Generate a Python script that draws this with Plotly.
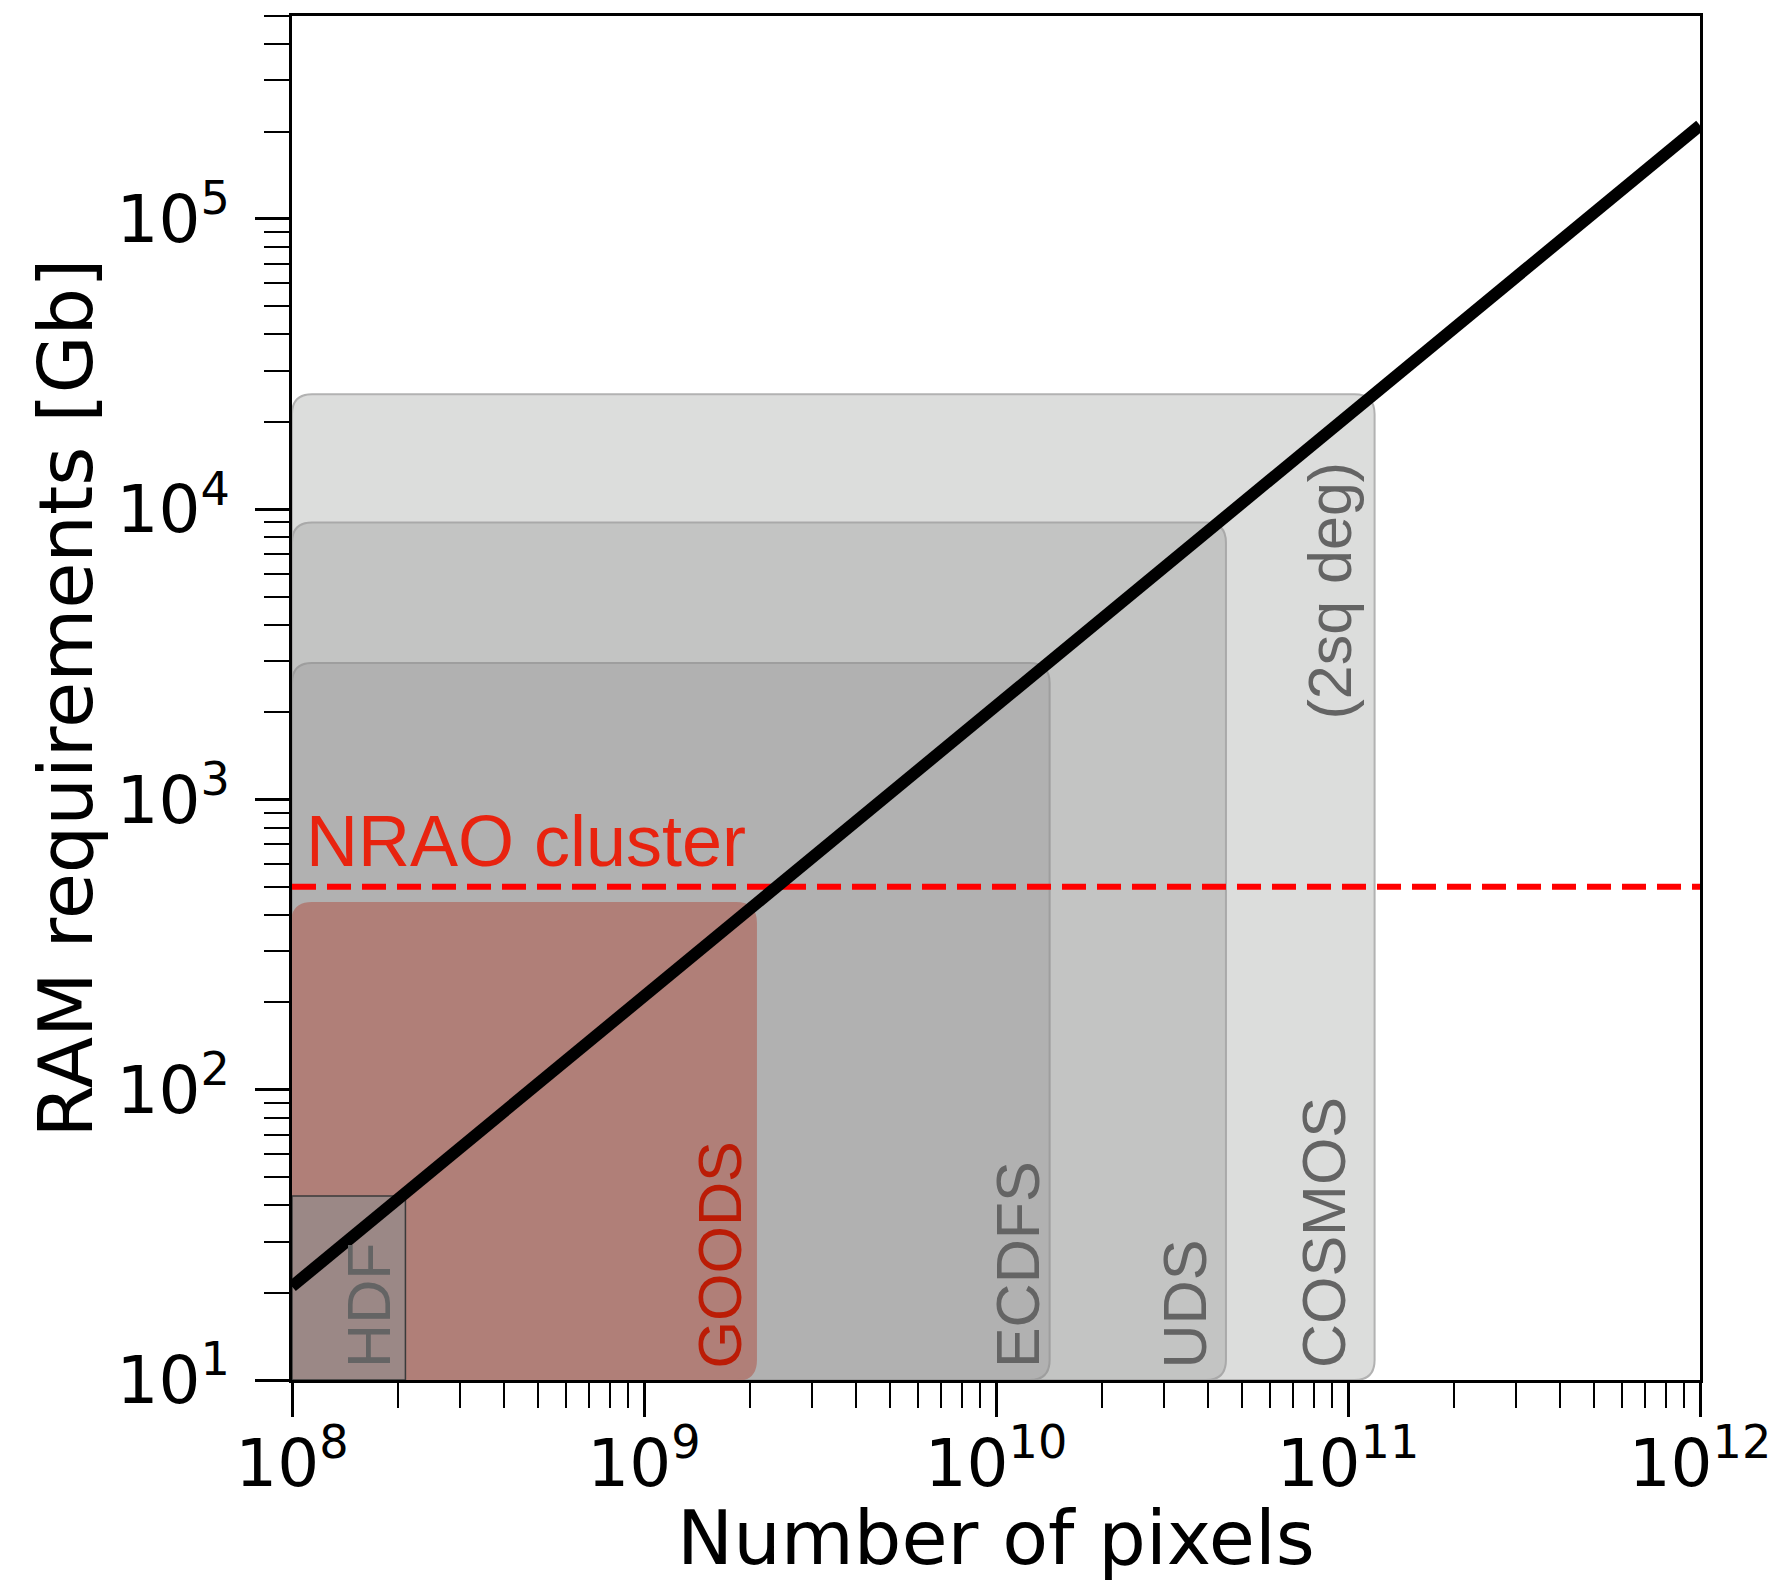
import numpy as np
import plotly.graph_objects as go

# Survey fields: pixel count of the map and RAM needed to image it
fields = ["HDF", "GOODS", "ECDFS", "UDS", "COSMOS"]
field_pixels = [2.1e8, 2.08e9, 1.42e10, 4.5e10, 1.19e11]
field_ram_gb = [43, 440, 2950, 9000, 24900]

# RAM scaling with number of pixels
scaling_pixels = [1e8, 1e12]
scaling_ram_gb = [21, 2.1e5]

# Memory available on the NRAO cluster
nrao_ram_gb = 500

# Decade tick positions
x_decades = [8, 9, 10, 11, 12]
y_decades = [1, 2, 3, 4, 5]

# ---- styling ----
W, H = 1773, 1582
M_L, M_R, M_T, M_B = 292, 73, 16, 202
X_RANGE = [8, 12]
Y_RANGE = [1, np.log10(5e5)]
px_per_dec_x = (W - M_L - M_R) / (X_RANGE[1] - X_RANGE[0])
px_per_dec_y = (H - M_T - M_B) / (Y_RANGE[1] - Y_RANGE[0])

box_fill = {"HDF": "#9b8886", "GOODS": "#b07f78", "ECDFS": "#b1b1b1",
            "UDS": "#c3c4c3", "COSMOS": "#dcdddc"}
box_edge = {"HDF": "#3a3a3a", "GOODS": "#b07f78", "ECDFS": "#9e9e9e",
            "UDS": "#a9a9a9", "COSMOS": "#b2b2b2"}
label_color = {"HDF": "#646464", "GOODS": "#bb1c06", "ECDFS": "#646464",
               "UDS": "#646464", "COSMOS": "#646464"}
label_xshift = {"HDF": -37, "GOODS": -36, "ECDFS": -32, "UDS": -41, "COSMOS": -51}
rounded = {"HDF": False, "GOODS": True, "ECDFS": True, "UDS": True, "COSMOS": True}
CORNER_PX = 20
LABEL_FONT = "Liberation Sans, Arial, Helvetica, sans-serif"
AXIS_FONT = "DejaVu Sans, sans-serif"


def box_path(x_right, y_top, radius_px):
    """Rounded rectangle from the lower-left corner of the axes to (x_right, y_top)."""
    lx0, lx1 = X_RANGE[0], np.log10(x_right)
    ly0, ly1 = Y_RANGE[0], np.log10(y_top)
    rx = radius_px / px_per_dec_x
    ry = radius_px / px_per_dec_y

    def p(lx, ly):
        return f"{10 ** lx:.6g},{10 ** ly:.6g}"

    return (f"M {p(lx0 + rx, ly0)} L {p(lx1 - rx, ly0)} "
            f"Q {p(lx1, ly0)} {p(lx1, ly0 + ry)} L {p(lx1, ly1 - ry)} "
            f"Q {p(lx1, ly1)} {p(lx1 - rx, ly1)} L {p(lx0 + rx, ly1)} "
            f"Q {p(lx0, ly1)} {p(lx0, ly1 - ry)} L {p(lx0, ly0 + ry)} "
            f"Q {p(lx0, ly0)} {p(lx0 + rx, ly0)} Z")


fig = go.Figure()

shapes = []
annotations = []
# largest field first so the smaller ones sit on top
for name, npix, ram in sorted(zip(fields, field_pixels, field_ram_gb),
                              key=lambda t: -t[1]):
    if rounded[name]:
        shapes.append(dict(type="path", xref="x", yref="y",
                           path=box_path(npix, ram, CORNER_PX),
                           fillcolor=box_fill[name],
                           line=dict(color=box_edge[name], width=2),
                           layer="below"))
    else:
        shapes.append(dict(type="rect", xref="x", yref="y",
                           x0=10 ** X_RANGE[0], x1=npix,
                           y0=10 ** Y_RANGE[0], y1=ram,
                           fillcolor=box_fill[name],
                           line=dict(color=box_edge[name], width=1.5),
                           layer="below"))
    annotations.append(dict(x=np.log10(npix), y=Y_RANGE[0], xref="x", yref="y",
                            text=name, textangle=-90, showarrow=False,
                            xanchor="center", yanchor="bottom",
                            xshift=label_xshift[name], yshift=10,
                            font=dict(family=LABEL_FONT, size=61,
                                      color=label_color[name])))

# field size note for COSMOS
annotations.append(dict(x=np.log10(field_pixels[-1]), y=0.5785,
                        xref="x", yref="paper", text="(2sq deg)",
                        textangle=-90, showarrow=False,
                        xanchor="center", yanchor="middle", xshift=-45,
                        font=dict(family=LABEL_FONT, size=61, color="#646464")))

# NRAO cluster label
annotations.append(dict(x=X_RANGE[0], y=np.log10(nrao_ram_gb), xref="x", yref="y",
                        text="NRAO cluster", showarrow=False,
                        xanchor="left", yanchor="bottom", xshift=12, yshift=4,
                        font=dict(family=LABEL_FONT, size=72, color="#e8230f")))

fig.add_trace(go.Scatter(x=[10 ** X_RANGE[0], 10 ** X_RANGE[1]],
                         y=[nrao_ram_gb, nrao_ram_gb], mode="lines",
                         line=dict(color="#ff0000", width=6, dash="24px,11px"),
                         hoverinfo="skip", showlegend=False))

fig.add_trace(go.Scatter(x=scaling_pixels, y=scaling_ram_gb, mode="lines",
                         line=dict(color="black", width=12),
                         hoverinfo="skip", showlegend=False))


def decade_labels(exps):
    return [10.0 ** e for e in exps], [f"10<sup>{e}</sup>" for e in exps]


axis_common = dict(
    type="log", automargin=False,
    showgrid=False, zeroline=False,
    showline=True, linecolor="black", linewidth=3, mirror=True,
    ticks="outside", ticklen=34, tickwidth=3, tickcolor="black",
    minor=dict(ticks="outside", ticklen=25, tickwidth=1.5, tickcolor="black",
               dtick="D1", showgrid=False),
    tickfont=dict(family=AXIS_FONT, size=66, color="black"),
)

xt_vals, xt_text = decade_labels(x_decades)
yt_vals, yt_text = decade_labels(y_decades)

fig.update_layout(
    width=W, height=H,
    margin=dict(l=M_L, r=M_R, t=M_T, b=M_B),
    paper_bgcolor="white", plot_bgcolor="white",
    shapes=shapes, annotations=annotations,
    xaxis=dict(range=X_RANGE, tickmode="array", tickvals=xt_vals, ticktext=xt_text,
               title=dict(text="Number of pixels", standoff=40,
                          font=dict(family=AXIS_FONT, size=75, color="black")),
               ticklabelstandoff=-10,
               **axis_common),
    yaxis=dict(range=Y_RANGE, tickmode="array", tickvals=yt_vals, ticktext=yt_text,
               title=dict(text="RAM requirements [Gb]", standoff=0,
                          font=dict(family=AXIS_FONT, size=75, color="black")),
               ticklabelstandoff=12,
               **axis_common),
)

fig.write_html("out.html")
